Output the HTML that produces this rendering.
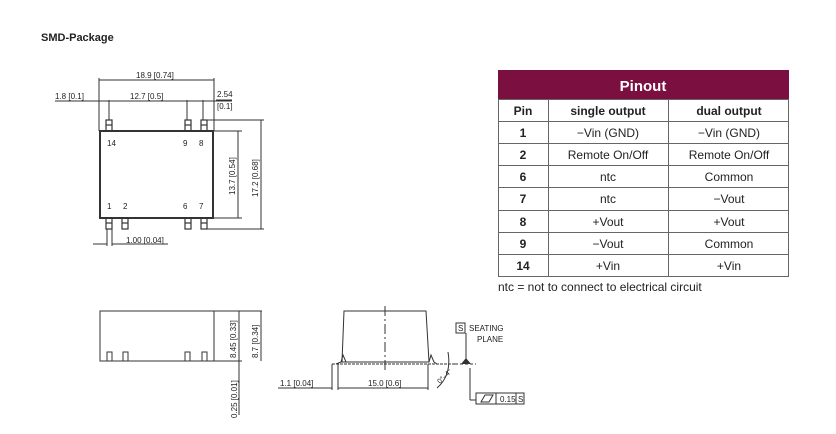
<!DOCTYPE html>
<html><head><style>
body{margin:0;background:#fff;width:836px;height:429px;overflow:hidden;font-family:"Liberation Sans",sans-serif}
</style></head><body>
<svg width="836" height="429" xmlns="http://www.w3.org/2000/svg" font-family="Liberation Sans, sans-serif">
<text x="41" y="41" font-size="11" font-weight="bold" fill="#222">SMD-Package</text>
<g stroke="#333" fill="none" stroke-width="1">
<!-- top view -->
<rect x="100" y="131" width="113" height="87" stroke-width="2"/>
<g stroke-width="1.2">
<rect x="106" y="120" width="6" height="11"/><line x1="106" y1="125" x2="112" y2="125"/>
<rect x="185" y="120" width="6" height="11"/><line x1="185" y1="125" x2="191" y2="125"/>
<rect x="201" y="120" width="6" height="11"/><line x1="201" y1="125" x2="207" y2="125"/>
<rect x="106" y="218" width="6" height="11"/><line x1="106" y1="223" x2="112" y2="223"/>
<rect x="122" y="218" width="6" height="11"/><line x1="122" y1="223" x2="128" y2="223"/>
<rect x="185" y="218" width="6" height="11"/><line x1="185" y1="223" x2="191" y2="223"/>
<rect x="201" y="218" width="6" height="11"/><line x1="201" y1="223" x2="207" y2="223"/>
</g>
<line x1="99" y1="78" x2="99" y2="131"/><line x1="214" y1="78" x2="214" y2="131"/>
<line x1="99" y1="80" x2="214" y2="80"/>
<line x1="109" y1="100" x2="109" y2="120"/><line x1="187" y1="100" x2="187" y2="120"/><line x1="203" y1="100" x2="203" y2="120"/>
<line x1="55" y1="101" x2="232" y2="101"/>
<line x1="216" y1="100" x2="232" y2="100"/>
<line x1="213" y1="131" x2="242" y2="131"/><line x1="213" y1="218" x2="242" y2="218"/>
<line x1="238" y1="131" x2="238" y2="218"/>
<line x1="207" y1="120" x2="264" y2="120"/><line x1="207" y1="229" x2="264" y2="229"/>
<line x1="261" y1="120" x2="261" y2="229"/>
<line x1="107" y1="229" x2="107" y2="246"/><line x1="112" y1="229" x2="112" y2="246"/>
<line x1="93" y1="244" x2="107" y2="244"/><line x1="112" y1="244" x2="168" y2="244"/>
<!-- side view -->
<rect x="100" y="311" width="114" height="50"/>
<rect x="107" y="352" width="5" height="9"/><rect x="123" y="352" width="5" height="9"/><rect x="185" y="352" width="5" height="9"/><rect x="202" y="352" width="5" height="9"/>
<line x1="214" y1="311" x2="262" y2="311"/><line x1="214" y1="361" x2="242" y2="361"/>
<line x1="239" y1="311" x2="239" y2="361"/><line x1="261" y1="311" x2="261" y2="361"/>
<line x1="239" y1="361" x2="239" y2="415"/>
<!-- front view -->
<path d="M344 311 H426 L429 362 H342 Z"/>
<line x1="385" y1="306" x2="385" y2="370" stroke-dasharray="10,3,2,3"/>
<path d="M336 364 L341 362 L343 355 L346 362 H429 L431 355 L434 362 L437 364"/>
<line x1="332" y1="364" x2="455" y2="364" stroke-dasharray="3,1"/>
<line x1="455" y1="364" x2="476" y2="364" stroke-dasharray="3,2"/>
<line x1="332" y1="364" x2="332" y2="390"/><line x1="338" y1="364" x2="338" y2="390"/>
<line x1="428" y1="364" x2="428" y2="390"/>
<line x1="278" y1="388" x2="332" y2="388"/><line x1="338" y1="388" x2="428" y2="388"/>
<path d="M437 388 Q452 375 448 352"/>
<line x1="466" y1="333" x2="466" y2="362"/>
<line x1="470" y1="368" x2="470" y2="400"/><line x1="470" y1="400" x2="476" y2="400"/>
<rect x="476" y="393" width="48" height="11"/>
<line x1="496" y1="393" x2="496" y2="404"/><line x1="516" y1="393" x2="516" y2="404"/>
<path d="M481 402 L485 395 H493 L489 402 Z"/>
<rect x="456" y="323" width="9" height="10"/>
</g>
<path d="M461 364 L466 358 L471 364 Z" fill="#333"/>
<g font-size="8" fill="#222">
<text x="136" y="78">18.9 [0.74]</text>
<text x="55" y="99">1.8 [0.1]</text>
<text x="130" y="99">12.7 [0.5]</text>
<text x="217" y="97">2.54</text><text x="217" y="109">[0.1]</text>
<text x="107" y="146">14</text><text x="183" y="146">9</text><text x="199" y="146">8</text>
<text x="107" y="209">1</text><text x="123" y="209">2</text><text x="183" y="209">6</text><text x="199" y="209">7</text>
<text x="126" y="243">1.00 [0.04]</text>
<text transform="translate(235,195) rotate(-90)">13.7 [0.54]</text>
<text transform="translate(258,197) rotate(-90)">17.2 [0.68]</text>
<text transform="translate(236,358) rotate(-90)">8.45 [0.33]</text>
<text transform="translate(258,358) rotate(-90)">8.7 [0.34]</text>
<text transform="translate(237,418) rotate(-90)">0.25 [0.01]</text>
<text x="280" y="386">1.1 [0.04]</text>
<text x="368" y="386">15.0 [0.6]</text>
<text x="458" y="331">S</text>
<text x="469" y="331">SEATING</text><text x="477" y="342">PLANE</text>
<text x="500" y="402">0.15</text><text x="518" y="402">S</text>
<text transform="translate(440,384) rotate(-45)" font-size="7">0°–4°</text>
</g>
<!-- pinout table -->
<rect x="498" y="70" width="291" height="29" fill="#7a0f40"/>
<text x="643" y="91" font-size="15" font-weight="bold" fill="#fff" text-anchor="middle">Pinout</text>
<g stroke="#666" stroke-width="1" fill="none">
<rect x="498.5" y="99.5" width="290" height="177"/>
<line x1="548.5" y1="99" x2="548.5" y2="277"/><line x1="668.5" y1="99" x2="668.5" y2="277"/>
<line x1="498" y1="121.5" x2="789" y2="121.5"/><line x1="498" y1="143.5" x2="789" y2="143.5"/>
<line x1="498" y1="165.5" x2="789" y2="165.5"/><line x1="498" y1="187.5" x2="789" y2="187.5"/>
<line x1="498" y1="210.5" x2="789" y2="210.5"/><line x1="498" y1="232.5" x2="789" y2="232.5"/>
<line x1="498" y1="254.5" x2="789" y2="254.5"/>
</g>
<g font-size="12" fill="#222" text-anchor="middle">
<g font-weight="bold"><text x="523" y="115">Pin</text><text x="608" y="115">single output</text><text x="729" y="115">dual output</text>
<text x="523" y="137">1</text><text x="523" y="159">2</text><text x="523" y="181">6</text><text x="523" y="203">7</text><text x="523" y="226">8</text><text x="523" y="248">9</text><text x="523" y="270">14</text></g>
<text x="608" y="137">−Vin (GND)</text><text x="729" y="137">−Vin (GND)</text>
<text x="608" y="159">Remote On/Off</text><text x="729" y="159">Remote On/Off</text>
<text x="608" y="181">ntc</text><text x="729" y="181">Common</text>
<text x="608" y="203">ntc</text><text x="729" y="203">−Vout</text>
<text x="608" y="226">+Vout</text><text x="729" y="226">+Vout</text>
<text x="608" y="248">−Vout</text><text x="729" y="248">Common</text>
<text x="608" y="270">+Vin</text><text x="729" y="270">+Vin</text>
</g>
<text x="498" y="291" font-size="12" fill="#222">ntc = not to connect to electrical circuit</text>
</svg>
</body></html>
